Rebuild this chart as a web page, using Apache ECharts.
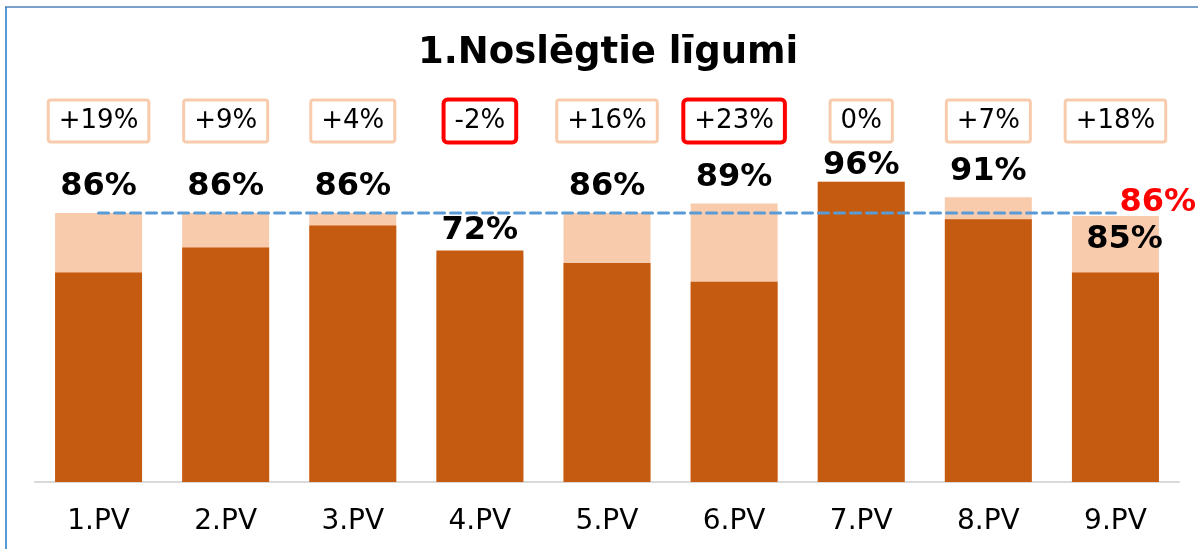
<!DOCTYPE html>
<html>
<head>
<meta charset="utf-8">
<script src="https://cdn.jsdelivr.net/npm/echarts@6/dist/echarts.min.js"></script>
<style>
  html, body { margin: 0; padding: 0; background: #ffffff; }
  #chart { width: 1198px; height: 549px; }
</style>
</head>
<body>
<div id="chart"></div>
<script>
// ---- data ----
const categories = ['1.PV', '2.PV', '3.PV', '4.PV', '5.PV', '6.PV', '7.PV', '8.PV', '9.PV'];
const currentValues = [86, 86, 86, 72, 86, 89, 96, 91, 85];   // light bars, labelled
const previousValues = [67, 75, 82, 74, 70, 64, 96, 84, 67];  // dark bars
const changeLabels = ['+19%', '+9%', '+4%', '-2%', '+16%', '+23%', '0%', '+7%', '+18%'];
const changeHighlighted = [false, false, false, true, false, true, false, false, false];
const averageValue = 86;
const titleText = '1.Noslēgtie līgumi';

// ---- styling ----
const DARK = '#C55A11';
const LIGHT = '#F8CBAD';
const FONT = 'DejaVu Sans, Verdana, sans-serif';
const BOX_ROW = 115.4;

const chart = echarts.init(document.getElementById('chart'), null, { renderer: 'canvas' });

const lightData = currentValues.map((v, i) => {
  const item = { value: v };
  if (i === 6) item.label = { distance: 0 };
  if (i === 8) item.label = { position: 'insideTop', distance: 8, offset: [9, 0] };
  return item;
});

const boxData = categories.map((c, i) => ({
  value: [c, BOX_ROW],
  label: {
    formatter: changeLabels[i],
    borderColor: changeHighlighted[i] ? '#FF0000' : LIGHT,
    borderWidth: changeHighlighted[i] ? 4 : 3,
    borderRadius: changeHighlighted[i] ? 2 : 1
  }
}));

const avgData = categories.map(() => averageValue);

const option = {
  animation: false,
  backgroundColor: '#ffffff',
  title: {
    text: titleText,
    left: 413,
    top: 30,
    textStyle: { fontFamily: FONT, fontWeight: 'bold', fontSize: 37, color: '#000000' }
  },
  grid: { left: 35, right: 19, top: 106.6, bottom: 67, containLabel: false },
  xAxis: {
    type: 'category',
    data: categories,
    axisLine: { show: true, lineStyle: { color: '#D9D9D9', width: 2 } },
    axisTick: { show: false },
    axisLabel: { color: '#000000', fontFamily: FONT, fontSize: 28, margin: 26 }
  },
  yAxis: {
    type: 'value',
    min: 0,
    max: 120,
    show: false,
    splitLine: { show: false }
  },
  series: [
    {
      name: 'current',
      type: 'bar',
      barWidth: 87,
      barGap: '-100%',
      data: lightData,
      itemStyle: { color: LIGHT },
      label: {
        show: true,
        position: 'top',
        distance: 10,
        formatter: p => p.value + '%',
        color: '#000000',
        fontFamily: FONT,
        fontWeight: 'bold',
        fontSize: 32,
        lineHeight: 32,
        textBorderWidth: 0
      },
      z: 2
    },
    {
      name: 'previous',
      type: 'bar',
      barWidth: 87,
      barGap: '-100%',
      data: previousValues,
      itemStyle: { color: DARK },
      z: 3
    },
    {
      name: 'average',
      type: 'line',
      data: avgData,
      symbol: 'none',
      showSymbol: false,
      lineStyle: { color: '#5B9BD5', width: 3, type: [10, 6], cap: 'round' },
      endLabel: {
        show: true,
        distance: 4,
        offset: [0, -10],
        formatter: averageValue + '%',
        color: '#FF0000',
        fontFamily: FONT,
        fontWeight: 'bold',
        fontSize: 32
      },
      z: 4
    },
    {
      name: 'change',
      type: 'scatter',
      data: boxData,
      symbolSize: 1,
      itemStyle: { color: '#ffffff', opacity: 1 },
      emphasis: { disabled: true },
      label: {
        show: true,
        position: 'inside',
        color: '#000000',
        fontFamily: FONT,
        fontSize: 26,
        lineHeight: 28,
        textBorderWidth: 0,
        textShadowBlur: 0,
        backgroundColor: '#ffffff',
        padding: [6, 9, 5, 9]
      },
      z: 5
    }
  ],
  graphic: [
    { type: 'line', shape: { x1: 6, y1: 7, x2: 6, y2: 549 }, style: { stroke: '#5B9BD5', lineWidth: 2 } },
    { type: 'line', shape: { x1: 5, y1: 7, x2: 1198, y2: 7 }, style: { stroke: '#4F81BD', lineWidth: 1.5 } }
  ]
};

chart.setOption(option);
</script>
</body>
</html>
